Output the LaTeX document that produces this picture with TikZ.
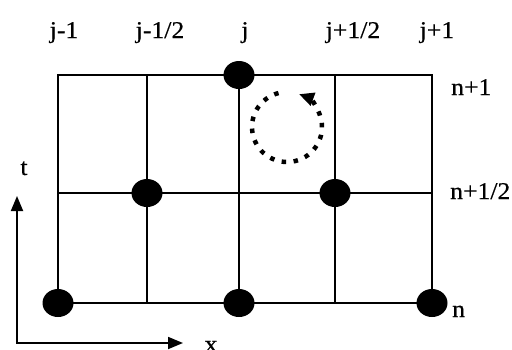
\documentclass[tikz,border=0pt]{standalone}
\usepackage{fontspec}
\setmainfont{Liberation Serif}
\newfontfamily\lblfont[FakeBold=0.4]{Liberation Serif}
\usetikzlibrary{arrows.meta,shapes.geometric}
\newcommand\widelbl[1]{\scalebox{1.07}[1]{#1}}
\begin{document}
\begin{tikzpicture}[x=1pt,y=-1pt,
  gridline/.style={line width=1.8pt},
  gpt/.style={ellipse,fill=black,minimum width=31pt,minimum height=28pt,inner sep=0pt},
  lab/.style={font=\lblfont\fontsize{24}{27}\selectfont,inner sep=0pt,anchor=base},
  rlab/.style={lab,anchor=base west},
  axisline/.style={line width=1.8pt,line join=miter,{Triangle[length=15pt,width=12pt]}-{Triangle[length=15pt,width=12pt]}},
  rot/.style={line width=4.5pt,dash pattern=on 4.5pt off 7.5pt,-{Triangle[length=15pt,width=13pt]}}]
\useasboundingbox (0,0) rectangle (512,349);
% grid points
\coordinate (a1) at (58,75);  \coordinate (a2) at (147,75);  \coordinate (a3) at (239,75);  \coordinate (a4) at (335,75);  \coordinate (a5) at (432,75);
\coordinate (b1) at (58,193); \coordinate (b5) at (432,193);
\coordinate (c1) at (58,303); \coordinate (c2) at (147,303); \coordinate (c3) at (239,303); \coordinate (c4) at (335,303); \coordinate (c5) at (432,303);
\draw[gridline] (a1) rectangle (c5);
\draw[gridline] (b1) -- (b5);
\draw[gridline] (a2) -- (c2);
\draw[gridline] (a3) -- (c3);
\draw[gridline] (a4) -- (c4);
% points
\node[gpt] (p1) at (c1) {};
\node[gpt] (p2) at (147,193) {};
\node[gpt] (p3) at (a3) {};
\node[gpt] (p4) at (c3) {};
\node[gpt] (p5) at (335,193) {};
\node[gpt] (p6) at (c5) {};
% labels
\node[lab] (l1) at (64,38) {\widelbl{j-1}};
\node[lab] (l2) at (160,38) {\widelbl{j-1/2}};
\node[lab] (l3) at (245,38) {\widelbl{j}};
\node[lab] (l4) at (353,38) {\widelbl{j+1/2}};
\node[lab] (l5) at (437,38) {\widelbl{j+1}};
\node[rlab] (r1) at (451,95) {\widelbl{n+1}};
\node[rlab] (r2) at (450,199) {\widelbl{n+1/2}};
\node[rlab] (r3) at (452,317) {\widelbl{n}};
% axes
\coordinate (o) at (17,343);
\coordinate (tt) at (17,196);
\coordinate (xx) at (183,343);
\draw[axisline] (tt) -- (o) -- (xx);
\node[lab] (tl) at (24,175) {\widelbl{t}};
\node[lab] (xl) at (211,352) {\widelbl{x}};
% rotation
\coordinate (rc) at (287,127);
\draw[rot] (rc) ++(-104:35) arc[start angle=-104, end angle=-430, radius=35];
\end{tikzpicture}
\end{document}
